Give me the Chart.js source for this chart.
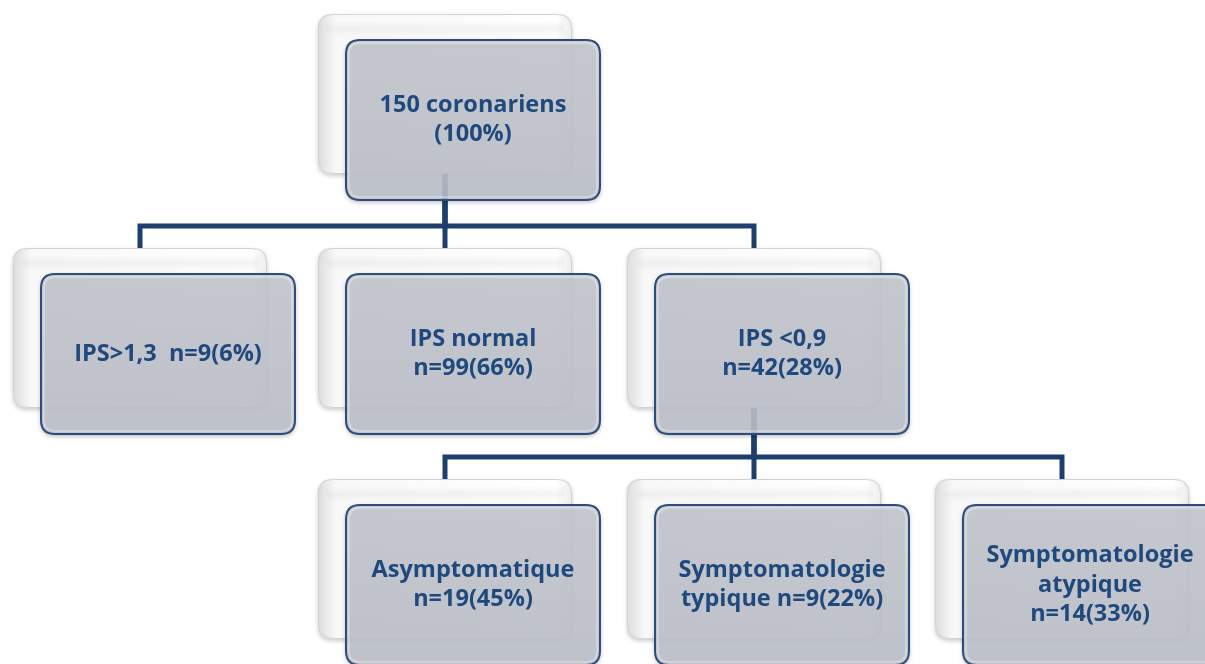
<!DOCTYPE html>
<html><head><meta charset="utf-8">
<script src="https://cdn.jsdelivr.net/npm/chart.js@4.4.1/dist/chart.umd.min.js"></script>
<style>html,body{margin:0;padding:0;background:#fff;overflow:hidden}#wrap{width:1205px;height:664px}</style>
</head><body><div id="wrap"><canvas id="c" width="1205" height="664"></canvas></div>
<script>
// ---- data ----
const nodeTitles   = ["150 coronariens", "IPS>1,3", "IPS normal", "IPS <0,9", "Asymptomatique", "Symptomatologie typique", "Symptomatologie atypique"];
const nodeCounts   = [150, 9, 99, 42, 19, 9, 14];
const nodePercents = [100, 6, 66, 28, 45, 22, 33];
const nodeParents  = [null, 0, 0, 0, 3, 3, 3];

// ---- layout (kept apart from data) ----
const nodeLevel = [0, 1, 1, 1, 2, 2, 2];
const nodeCol   = [1, 0, 1, 2, 1, 2, 3];
const colLeft   = [13, 318, 627, 935];
const levelTop  = [14, 248, 479];
const BOX_W = 254, BOX_H = 160, FRONT_DX = 28, FRONT_DY = 26, RADIUS = 14, JOIN_GAP = 22;

function nLabel(i){ return `n=${nodeCounts[i]}(${nodePercents[i]}%)`; }
const nodeLines = [
  [nodeTitles[0], `(${nodePercents[0]}%)`],
  [`${nodeTitles[1]}  ${nLabel(1)}`],
  [nodeTitles[2], nLabel(2)],
  [nodeTitles[3], nLabel(3)],
  [nodeTitles[4], nLabel(4)],
  ["Symptomatologie", "typique " + nLabel(5)],
  ["Symptomatologie", "atypique", nLabel(6)]
];

const nodes = nodeTitles.map((t, i) => ({
  x: colLeft[nodeCol[i]], y: levelTop[nodeLevel[i]]
}));

// connectors: elbow polylines parent back-box bottom -> junction -> child back-box top
const NAVY = '#1c3f6e';
const connectorSets = [];
nodeParents.forEach((p, i) => {
  if (p === null) return;
  const px = nodes[p].x + BOX_W / 2, py = nodes[p].y + BOX_H;
  const cx = nodes[i].x + BOX_W / 2, cy = nodes[i].y;
  const jy = cy - JOIN_GAP;
  connectorSets.push({
    type: 'line', data: [{x: px, y: py}, {x: px, y: jy}, {x: cx, y: jy}, {x: cx, y: cy}],
    borderColor: NAVY, borderWidth: 5, pointRadius: 0, showLine: true, fill: false,
    tension: 0, borderJoinStyle: 'miter', borderCapStyle: 'butt'
  });
});

function rr(ctx, x, y, w, h, r){
  ctx.beginPath();
  ctx.moveTo(x + r, y);
  ctx.lineTo(x + w - r, y); ctx.quadraticCurveTo(x + w, y, x + w, y + r);
  ctx.lineTo(x + w, y + h - r); ctx.quadraticCurveTo(x + w, y + h, x + w - r, y + h);
  ctx.lineTo(x + r, y + h); ctx.quadraticCurveTo(x, y + h, x, y + h - r);
  ctx.lineTo(x, y + r); ctx.quadraticCurveTo(x, y, x + r, y);
  ctx.closePath();
}

function px(chart, nx, ny){
  return [chart.scales.x.getPixelForValue(nx), chart.scales.y.getPixelForValue(ny)];
}

const boxPlugin = {
  id: 'boxes',
  beforeDatasetsDraw(chart){
    const ctx = chart.ctx;
    nodes.forEach(n => {
      const [x0, y0] = px(chart, n.x, n.y);
      const [x1, y1] = px(chart, n.x + BOX_W, n.y + BOX_H);
      const w = x1 - x0, h = y1 - y0;
      ctx.save();
      ctx.shadowColor = 'rgba(0,0,0,0.2)'; ctx.shadowBlur = 4; ctx.shadowOffsetY = 2;
      rr(ctx, x0, y0, w, h, RADIUS);
      const g = ctx.createLinearGradient(x0, 0, x1, 0);
      g.addColorStop(0, '#dcdcdc'); g.addColorStop(0.07, '#f8f8f8'); g.addColorStop(0.94, '#ffffff'); g.addColorStop(1, '#ececec');
      ctx.fillStyle = g; ctx.fill();
      ctx.restore();
      ctx.save();
      rr(ctx, x0 + 0.5, y0 + 0.5, w - 1, h - 1, RADIUS);
      ctx.strokeStyle = '#d2d2d2'; ctx.lineWidth = 1; ctx.stroke();
      const g2 = ctx.createLinearGradient(0, y0, 0, y0 + 30);
      g2.addColorStop(0, 'rgba(255,255,255,0)'); g2.addColorStop(0.5, 'rgba(220,220,220,0.35)'); g2.addColorStop(1, 'rgba(255,255,255,0)');
      ctx.fillStyle = g2; ctx.fillRect(x0 + 8, y0 + 8, w - 16, 22);
      ctx.restore();
    });
  },
  afterDatasetsDraw(chart){
    const ctx = chart.ctx;
    nodes.forEach((n, i) => {
      const [x0, y0] = px(chart, n.x + FRONT_DX, n.y + FRONT_DY);
      const [x1, y1] = px(chart, n.x + FRONT_DX + BOX_W, n.y + FRONT_DY + BOX_H);
      const w = x1 - x0, h = y1 - y0;
      ctx.save();
      ctx.shadowColor = 'rgba(0,0,0,0.35)'; ctx.shadowBlur = 5; ctx.shadowOffsetY = 2;
      rr(ctx, x0, y0, w, h, RADIUS);
      const g = ctx.createLinearGradient(0, y0, 0, y1);
      g.addColorStop(0, 'rgba(200,203,211,0.87)'); g.addColorStop(1, 'rgba(192,196,205,0.87)');
      ctx.fillStyle = g; ctx.fill();
      ctx.restore();
      ctx.save();
      rr(ctx, x0 + 3, y0 + 3, w - 6, h - 6, RADIUS - 3);
      ctx.strokeStyle = 'rgba(255,255,255,0.35)'; ctx.lineWidth = 1.5; ctx.stroke();
      rr(ctx, x0, y0, w, h, RADIUS);
      ctx.strokeStyle = '#2c4d7a'; ctx.lineWidth = 2; ctx.stroke();
      const lines = nodeLines[i];
      const lh = 29.5;
      const cx = x0 + w / 2, cy = y0 + h / 2;
      ctx.fillStyle = '#1f497d';
      ctx.font = 'bold 23.5px "Open Sans", sans-serif';
      ctx.textAlign = 'center'; ctx.textBaseline = 'middle';
      lines.forEach((t, k) => {
        ctx.fillText(t, cx, cy + (k - (lines.length - 1) / 2) * lh);
      });
      ctx.restore();
    });
  }
};

new Chart(document.getElementById('c'), {
  type: 'scatter',
  data: { datasets: connectorSets },
  options: {
    responsive: false, animation: false, devicePixelRatio: 1,
    layout: { padding: 0 },
    plugins: { legend: { display: false }, tooltip: { enabled: false } },
    scales: {
      x: { type: 'linear', min: 0, max: 1205, display: false },
      y: { type: 'linear', min: 0, max: 664, reverse: true, display: false }
    }
  },
  plugins: [boxPlugin]
});
</script></body></html>
